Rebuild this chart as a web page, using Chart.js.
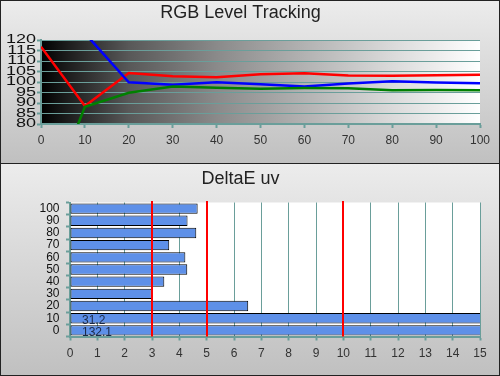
<!DOCTYPE html>
<html>
<head>
<meta charset="utf-8">
<title>RGB Level Tracking / DeltaE uv</title>
<script src="https://cdn.jsdelivr.net/npm/chart.js@4.4.0/dist/chart.umd.min.js"></script>
<style>
  body { margin: 0; background: #fff; }
  .panel {
    position: absolute; left: 0; width: 498px;
    border: 1px solid #222;
    background: linear-gradient(#ececec, #c0c0c0);
  }
  #panel1 { top: 0; height: 162px; }
  #panel2 { top: 164px; height: 211px; border-top: none; }
  canvas { display: block; }
</style>
</head>
<body>
<div class="panel" id="panel1"><canvas id="rgbChart" width="498" height="162"></canvas></div>
<div class="panel" id="panel2"><canvas id="deltaChart" width="498" height="211"></canvas></div>
<script>
// --- RGB level tracking (stimulus % -> level %) ---
const levels = [0, 10, 20, 30, 40, 50, 60, 70, 80, 90, 100];
const redLevels = [116.8, 88.6, 104.3, 102.7, 102.3, 103.7, 104.2, 103.1, 103.0, 103.2, 103.5];
const greenLevels = [35, 88.2, 94.9, 97.9, 97.3, 96.8, 97.1, 97.0, 96.1, 96.2, 96.1];
const blueLevels = [130, 123.2, 99.9, 98.7, 99.9, 98.9, 97.9, 99.3, 100.3, 99.8, 99.4];
const rgbYTicks = [80, 85, 90, 95, 100, 105, 110, 115, 120];
const rgbXTicks = [0, 10, 20, 30, 40, 50, 60, 70, 80, 90, 100];

// --- DeltaE uv per level ---
const deltaLabels = ['100', '90', '80', '70', '60', '50', '40', '30', '20', '10', '0'];
const deltaValues = [4.67, 4.3, 4.62, 3.63, 4.22, 4.29, 3.45, 2.99, 6.52, 31.2, 132.1];
const deltaXTicks = [0, 1, 2, 3, 4, 5, 6, 7, 8, 9, 10, 11, 12, 13, 14, 15];
const limitLines = [3, 5, 10];

const teal = '#6a9e9a';
const fontFamily = '"Liberation Sans", Arial, sans-serif';
Chart.defaults.font.family = fontFamily;
Chart.defaults.animation = false;

function ticksFrom(arr) {
    return function(scale) {
        scale.ticks = arr.map(v => ({ value: v }));
    };
}

// grey ramp behind the tracking lines + wide y labels
const rgbDecor = {
    id: 'rgbDecor',
    beforeDraw(chart) {
        const { ctx, chartArea: a } = chart;
        const g = ctx.createLinearGradient(a.left, 0, a.right, 0);
        g.addColorStop(0, '#000000');
        g.addColorStop(0.06, '#1c1c1c');
        g.addColorStop(0.2, '#585858');
        g.addColorStop(0.4, '#8a8a8a');
        g.addColorStop(0.6, '#b2b2b2');
        g.addColorStop(0.8, '#dadada');
        g.addColorStop(1, '#ffffff');
        ctx.save();
        ctx.fillStyle = g;
        ctx.fillRect(a.left, a.top, a.right - a.left, a.bottom - a.top);
        ctx.restore();
    },
    afterDraw(chart) {
        const { ctx } = chart;
        const y = chart.scales.y;
        ctx.save();
        ctx.font = '12px ' + fontFamily;
        ctx.fillStyle = '#111';
        ctx.textAlign = 'right';
        ctx.textBaseline = 'middle';
        rgbYTicks.forEach(v => {
            ctx.save();
            ctx.translate(35, y.getPixelForValue(v));
            ctx.scale(1.5, 1);
            ctx.fillText(String(v), 0, 0);
            ctx.restore();
        });
        ctx.restore();
    }
};

function series(vals) {
    return levels.map((lv, i) => ({ x: lv, y: vals[i] }));
}

new Chart(document.getElementById('rgbChart'), {
    type: 'line',
    data: {
        datasets: [
            { data: series(greenLevels), borderColor: '#008000', borderWidth: 2.5, pointRadius: 0, clip: 0 },
            { data: series(blueLevels), borderColor: '#0000ff', borderWidth: 2.5, pointRadius: 0, clip: 0 },
            { data: series(redLevels), borderColor: '#ff0000', borderWidth: 2.5, pointRadius: 0, clip: 0 }
        ]
    },
    options: {
        responsive: false,
        devicePixelRatio: 1,
        layout: { padding: { left: 0, right: 19, top: 0, bottom: 0 } },
        plugins: {
            legend: { display: false },
            tooltip: { enabled: false },
            title: {
                display: true,
                text: 'RGB Level Tracking',
                color: '#222',
                font: { size: 18, weight: 'normal' },
                padding: { top: 1.3, bottom: 16.1 }
            }
        },
        scales: {
            x: {
                type: 'linear', min: 0, max: 100,
                afterBuildTicks: ticksFrom(rgbXTicks),
                afterFit(s) { s.height = 39; },
                grid: { drawOnChartArea: false, color: teal, tickLength: 4, tickWidth: 2 },
                border: { color: teal, width: 2 },
                ticks: { color: '#333', font: { size: 12 }, padding: 5, maxRotation: 0, autoSkip: false }
            },
            y: {
                min: 80, max: 120,
                afterBuildTicks: ticksFrom(rgbYTicks),
                afterFit(s) { s.width = 40; },
                grid: { color: teal, lineWidth: 1, tickLength: 4, tickWidth: 2 },
                border: { color: teal, width: 2 },
                ticks: { display: false }
            }
        }
    },
    plugins: [rgbDecor]
});

// white plot, red limit lines over bars, values of off-scale bars
const deltaDecor = {
    id: 'deltaDecor',
    beforeDraw(chart) {
        const { ctx, chartArea: a } = chart;
        ctx.save();
        ctx.fillStyle = '#ffffff';
        ctx.fillRect(a.left, a.top, a.right - a.left, a.bottom - a.top);
        ctx.restore();
    },
    afterDatasetsDraw(chart) {
        const { ctx, chartArea: a } = chart;
        const x = chart.scales.x, y = chart.scales.y;
        ctx.save();
        ctx.fillStyle = '#ff0000';
        limitLines.forEach(v => {
            const px = Math.round(x.getPixelForValue(v));
            ctx.fillRect(px - 1, a.top - 1.5, 2, a.bottom - a.top + 1.5);
        });
        ctx.font = '12px ' + fontFamily;
        ctx.fillStyle = '#1c2a48';
        ctx.textAlign = 'left';
        ctx.textBaseline = 'alphabetic';
        deltaValues.forEach((v, i) => {
            if (v > x.max) {
                ctx.fillText(v.toFixed(1), a.left + 12, y.getPixelForValue(i) + 6);
            }
        });
        ctx.restore();
    }
};

new Chart(document.getElementById('deltaChart'), {
    type: 'bar',
    data: {
        labels: deltaLabels,
        datasets: [{
            data: deltaValues,
            backgroundColor: '#5e90e8',
            borderColor: '#000',
            borderWidth: 1,
            borderSkipped: false,
            barPercentage: 0.85,
            categoryPercentage: 1,
            clip: 0
        }]
    },
    options: {
        indexAxis: 'y',
        responsive: false,
        devicePixelRatio: 1,
        layout: { padding: { left: 0, right: 19, top: 0, bottom: 0 } },
        plugins: {
            legend: { display: false },
            tooltip: { enabled: false },
            title: {
                display: true,
                text: 'DeltaE uv',
                color: '#222',
                font: { size: 18, weight: 'normal' },
                padding: { top: 4.3, bottom: 12.6 }
            }
        },
        scales: {
            x: {
                min: 0, max: 15,
                afterBuildTicks: ticksFrom(deltaXTicks),
                afterFit(s) { s.height = 38.5; },
                grid: { color: teal, lineWidth: 1, tickLength: 4, tickWidth: 2 },
                border: { color: teal, width: 2 },
                ticks: { color: '#333', font: { size: 12 }, padding: 6, maxRotation: 0, autoSkip: false }
            },
            y: {
                afterFit(s) { s.width = 69; },
                grid: { drawOnChartArea: false, offset: true, color: teal, tickLength: 4, tickWidth: 2 },
                border: { color: teal, width: 2 },
                ticks: { color: '#111', font: { size: 12 }, padding: 6.5, autoSkip: false }
            }
        }
    },
    plugins: [deltaDecor]
});
</script>
</body>
</html>
